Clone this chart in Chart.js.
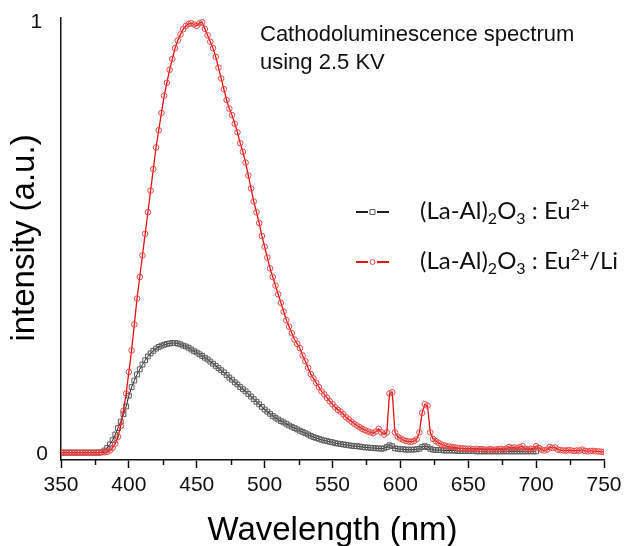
<!DOCTYPE html>
<html>
<head>
<meta charset="utf-8">
<script src="https://cdn.jsdelivr.net/npm/chart.js@4"></script>
<style>
	body { margin: 0; background: #fff; }
	#wrap { width: 625px; height: 546px; position: relative; }
</style>
</head>
<body>
<div id="wrap"><canvas id="cl"></canvas></div>
<script>
// spectra sampled every 2 nm starting at 350 nm
const wlStart = 350;
const wlStep = 2;

// (La-Al)2O3 : Eu2+/Li
const redIntensity = [
	0.003,0.003,0.003,0.003,0.003,0.003,0.003,0.003,0.003,0.003,0.003,0.003,0.003,0.003,0.003,0.004,0.004,0.005,
	0.008,0.014,0.024,0.04,0.065,0.10,0.14,0.19,0.24,0.30,0.36,0.41,0.46,0.51,0.56,0.61,0.66,0.71,0.75,0.79,
	0.83,0.86,0.89,0.915,0.94,0.958,0.972,0.984,0.992,0.996,0.998,0.995,
	0.992,0.998,1.0,0.985,0.97,0.955,0.94,0.92,0.895,0.87,0.845,0.82,0.80,0.785,0.765,0.745,0.72,0.70,0.675,0.645,0.615,0.585,0.56,0.535,0.505,
	0.48,0.455,0.43,0.41,0.39,0.37,0.35,0.33,0.31,0.295,0.28,0.265,0.255,0.245,0.228,0.215,0.2,0.185,0.175,0.165,0.155,0.145,0.138,0.13,0.122,
	0.115,0.108,0.102,0.098,0.092,0.085,0.08,0.075,0.07,0.066,0.062,0.058,0.055,0.052,0.05,0.048,0.052,0.058,0.05,0.045,0.05,0.14,0.143,0.05,0.04,
	0.036,0.033,0.03,0.029,0.028,0.03,0.034,0.05,0.095,0.115,0.112,0.05,0.035,0.03,0.026,0.022,0.02,0.018,0.017,0.016,0.015,0.014,0.013,0.013,0.012,
	0.012,0.012,0.011,0.012,0.011,0.011,0.01,0.01,0.011,0.01,0.01,0.011,0.012,0.01,0.012,0.016,0.014,0.015,0.013,0.016,0.018,0.012,0.01,0.012,0.011,
	0.018,0.014,0.01,0.008,0.01,0.016,0.014,0.015,0.01,0.009,0.008,0.008,0.009,0.008,0.007,0.008,0.008,0.01,0.007,0.006,0.007,0.007,0.006,0.006,0.005,0.005
];

// (La-Al)2O3 : Eu2+
const blackIntensity = [
	0.003,0.003,0.003,0.003,0.003,0.003,0.003,0.003,0.003,0.003,0.003,0.003,0.003,0.003,0.003,
	0.004,0.008,0.014,0.022,0.032,0.045,0.06,0.075,0.092,0.11,0.135,0.155,0.17,0.184,0.196,0.207,0.217,0.226,0.233,0.239,0.244,0.248,0.251,0.253,0.255,0.256,0.257,0.257,0.256,0.254,
	0.251,0.249,0.246,0.242,0.238,0.235,0.231,0.227,0.223,0.219,0.214,0.209,0.204,0.199,0.194,0.189,0.183,0.177,0.172,0.166,0.161,0.155,0.150,0.145,0.139,0.133,0.127,0.121,0.115,0.109,
	0.103,0.098,0.093,0.088,0.084,0.08,0.076,0.073,0.07,0.066,0.063,0.06,0.057,0.054,0.051,0.048,0.045,0.042,0.039,0.037,0.035,0.033,0.031,0.03,0.028,0.027,0.025,0.024,0.023,0.022,
	0.021,0.02,0.019,0.018,0.018,0.017,0.016,0.015,0.015,0.014,0.014,0.013,0.013,0.012,0.013,0.016,0.02,0.018,0.013,0.012,0.011,0.011,0.01,0.01,0.01,0.01,0.011,0.012,0.016,0.018,
	0.016,0.012,0.01,0.009,0.009,0.009,0.008,0.008,0.008,0.008,0.008,0.007,0.007,0.007,0.007,0.007,0.007,0.007,0.006,0.006,0.006,0.006,0.006,0.006,0.006,0.006,0.006,0.006,0.006,0.006,
	0.006,0.006,0.006,0.006,0.006,0.006,0.006,0.006,0.006,0.006,0.006
];

const xTicks = [350, 400, 450, 500, 550, 600, 650, 700, 750];
const xMinorTicks = [375, 425, 475, 525, 575, 625, 675, 725];
const yTicks = [0, 1];

const redLine = "rgb(225, 20, 20)";
const redMark = "rgb(235, 70, 70)";
const blackColor = "rgb(30, 30, 30)";
const markColor = "rgb(90, 90, 90)";

function toPoints(values) {
	let pts = [];
	for(let i=0; i<values.length; i++) {
		pts.push({ x: wlStart + i*wlStep, y: values[i] });
	}
	return pts;
}

// chemical formula with sub/superscripts
function drawFormula(ctx, x, y, parts) {
	let size = 24;
	for(let i=0; i<parts.length; i++) {
		let p = parts[i];
		let fs = p[1] == "n" ? size : Math.round(size*0.66);
		let dy = p[1] == "sub" ? 5 : (p[1] == "sup" ? -9 : 0);
		ctx.font = fs + "px Lato, 'Open Sans', sans-serif";
		ctx.fillText(p[0], x, y + dy);
		x += ctx.measureText(p[0]).width;
	}
}

let decorations = {
	id: "decorations",
	afterDraw(chart) {
		let ctx = chart.ctx;
		let xs = chart.scales.x;
		let area = chart.chartArea;
		ctx.save();

		// minor ticks under the x axis
		ctx.strokeStyle = "#111";
		ctx.lineWidth = 1.5;
		for(let i=0; i<xMinorTicks.length; i++) {
			let px = Math.round(xs.getPixelForValue(xMinorTicks[i])) + 0.5;
			ctx.beginPath();
			ctx.moveTo(px, area.bottom);
			ctx.lineTo(px, area.bottom + 5);
			ctx.stroke();
		}

		ctx.fillStyle = "#000";
		ctx.textBaseline = "alphabetic";

		// axis titles
		ctx.font = "33px 'Liberation Sans', Arial, sans-serif";
		ctx.textAlign = "center";
		ctx.fillText("Wavelength (nm)", (area.left + area.right)/2, 540);

		ctx.save();
		ctx.translate(34, 238);
		ctx.rotate(-Math.PI/2);
		ctx.fillText("intensity (a.u.)", 0, 0);
		ctx.restore();

		// note in the top right
		ctx.textAlign = "left";
		ctx.fillStyle = "#111";
		ctx.font = "22px 'Liberation Sans', Arial, sans-serif";
		ctx.fillText("Cathodoluminescence spectrum", 260, 41);
		ctx.fillText("using 2.5 KV", 260, 69);

		// legend
		let rows = [
			{ y: 212, line: blackColor, mark: markColor, shape: "rect", li: false },
			{ y: 262, line: redLine, mark: redMark, shape: "circle", li: true }
		];
		for(let i=0; i<rows.length; i++) {
			let r = rows[i];
			ctx.strokeStyle = r.line;
			ctx.lineWidth = 2;
			ctx.beginPath();
			ctx.moveTo(356, r.y); ctx.lineTo(368, r.y);
			ctx.moveTo(377, r.y); ctx.lineTo(389, r.y);
			ctx.stroke();
			ctx.lineWidth = 1;
			ctx.strokeStyle = r.mark;
			ctx.beginPath();
			if(r.shape == "rect")
				ctx.rect(370, r.y - 2.5, 5, 5);
			else
				ctx.arc(372.5, r.y, 2.5, 0, Math.PI*2);
			ctx.stroke();

			ctx.fillStyle = "#111";
			let parts = [["(La-Al)", "n"], ["2", "sub"], ["O", "n"], ["3", "sub"], [" : Eu", "n"], ["2+", "sup"]];
			if(r.li)
				parts.push(["/Li", "n"]);
			drawFormula(ctx, 420, r.y + 7, parts);
		}

		ctx.restore();
	}
};

new Chart(document.getElementById("cl"), {
	type: "line",
	data: {
		datasets: [{
			label: "(La-Al)2O3 : Eu2+/Li",
			data: toPoints(redIntensity),
			borderColor: redLine,
			borderWidth: 1.3,
			pointStyle: "circle",
			pointRadius: 2.8,
			pointBorderWidth: 1,
			pointBorderColor: redMark,
			pointBackgroundColor: "rgba(255,255,255,0)",
			tension: 0
		}, {
			label: "(La-Al)2O3 : Eu2+",
			data: toPoints(blackIntensity),
			borderColor: blackColor,
			borderWidth: 1,
			pointStyle: "rect",
			pointRadius: 3.4,
			pointBorderWidth: 1,
			pointBorderColor: markColor,
			pointBackgroundColor: "rgba(255,255,255,0)",
			tension: 0
		}]
	},
	options: {
		responsive: true,
		maintainAspectRatio: false,
		animation: false,
		layout: { padding: { top: 18, right: 21, left: 0, bottom: 0 } },
		plugins: {
			legend: { display: false },
			tooltip: { enabled: false }
		},
		scales: {
			x: {
				type: "linear",
				min: 350,
				max: 750,
				afterBuildTicks: (scale) => { scale.ticks = xTicks.map(v => ({ value: v })); },
				afterFit: (scale) => {
					scale.height = 86;
					scale.paddingLeft = 0;
					scale.paddingRight = 0;
				},
				grid: { drawOnChartArea: false, tickLength: 8, tickColor: "#111", tickWidth: 1.5 },
				border: { color: "#111", width: 1.5 },
				ticks: {
					color: "#111",
					padding: 5,
					maxRotation: 0,
					font: { family: "'Liberation Sans', Arial, sans-serif", size: 21 }
				}
			},
			y: {
				min: -0.014,
				max: 1.01,
				afterBuildTicks: (scale) => { scale.ticks = yTicks.map(v => ({ value: v })); },
				afterFit: (scale) => {
					scale.width = 61;
					scale.paddingTop = 0;
					scale.paddingBottom = 0;
				},
				grid: { display: false },
				border: { color: "#111", width: 1.5 },
				ticks: {
					color: "#111",
					padding: 5,
					callback: (v) => v == 1 ? "1 " : String(v),
					font: { family: "'Liberation Sans', Arial, sans-serif", size: 21 }
				}
			}
		}
	},
	plugins: [decorations]
});
</script>
</body>
</html>
